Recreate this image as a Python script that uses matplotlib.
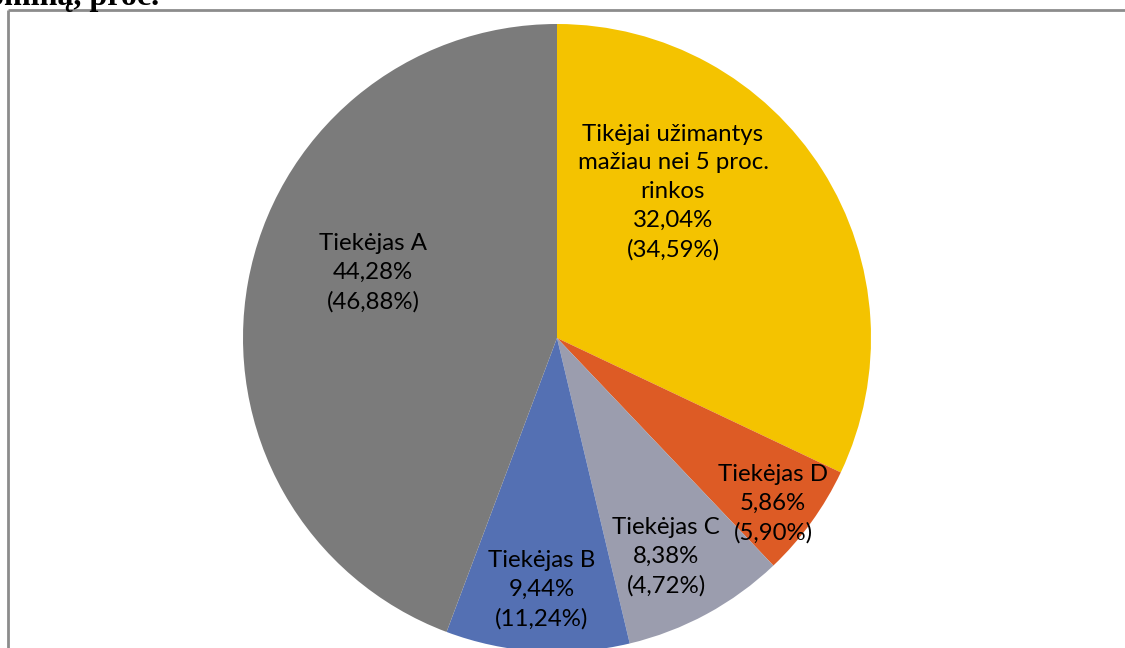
import matplotlib
matplotlib.use("Agg")
import matplotlib.pyplot as plt

categories = ["Tikėjai užimantys\nmažiau nei 5 proc.\nrinkos", "Tiekėjas D", "Tiekėjas C", "Tiekėjas B", "Tiekėjas A"]
values = [32.04, 5.86, 8.38, 9.44, 44.28]
prev_values = ["34,59%", "5,90%", "4,72%", "11,24%", "46,88%"]
colors = ["#F4C300", "#DD5B25", "#9B9DAE", "#5470B3", "#7B7B7B"]

W, H = 1125, 648
fig = plt.figure(figsize=(W / 100, H / 100), dpi=100)
ax = fig.add_axes([0, 0, 1, 1])

cx, cy, r = 557, H - 338, 314
wedges, _ = ax.pie(values, colors=colors, startangle=90, counterclock=False,
                   center=(cx, cy), radius=r, frame=True,
                   wedgeprops=dict(linewidth=0))
ax.set_xlim(0, W)
ax.set_ylim(0, H)
ax.set_aspect("equal")
ax.axis("off")

# label centers (pixel coords, top-origin)
label_pos = [(673, 192), (773, 504), (666, 557), (542, 590), (373, 273)]
for cat, v, pv, (lx, ly) in zip(categories, values, prev_values, label_pos):
    txt = cat + "\n" + f"{v:.2f}%".replace(".", ",") + f"\n({pv})"
    ax.text(lx, H - ly, txt, ha="center", va="center", fontsize=17.3,
            family="Lato", linespacing=1.45, color="black")

# frame lines
ax.plot([8, 8], [H - 10, -5], color="#8C8C8C", lw=2, solid_capstyle="butt")
ax.plot([8, W + 5], [H - 10, H - 10], color="#8C8C8C", lw=2, solid_capstyle="butt")

# cut-off title fragment (clipped at the top edge, as in the reference)
ax.text(-12, H - 5, "ominą, proc.", ha="left", va="baseline", fontsize=23,
        family="Liberation Serif", fontweight="bold", color="black")

fig.savefig("out.png", dpi=100)
